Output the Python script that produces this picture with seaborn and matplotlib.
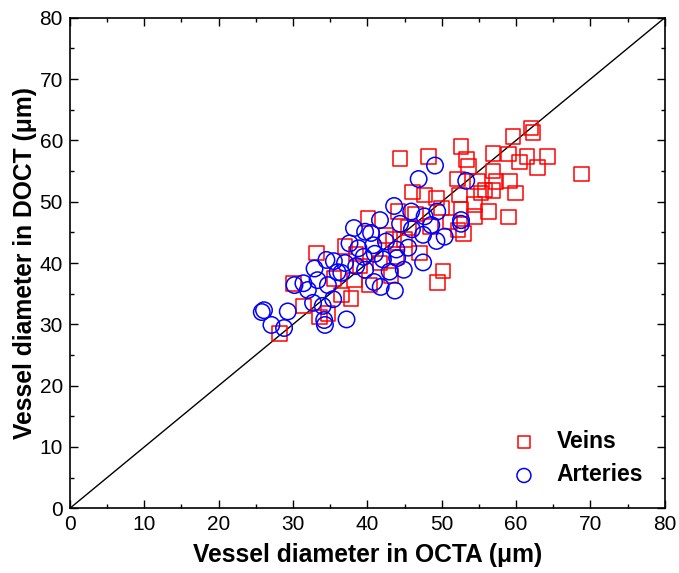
import numpy as np
import pandas as pd
import seaborn as sns
import matplotlib.pyplot as plt
from matplotlib.ticker import MultipleLocator

# veins (red squares): OCTA diameter, DOCT diameter [um]
veins_x = [44.4, 48.2, 52.6, 53.3, 53.6, 52.1, 54.8, 46.1, 47.7, 49.3, 52.4, 55.3, 54.4, 52.6,
           54.4, 40.1, 44.1, 51.1, 62.0, 62.3, 59.6, 56.9, 59.0, 61.5, 64.2, 60.5, 62.9, 68.8,
           56.9, 57.3, 59.1, 56.9, 59.9, 56.3, 59.0, 55.8, 52.9, 52.2, 47.0, 50.2, 49.4, 43.5,
           45.0, 41.7, 43.2, 40.3, 33.2, 37.0, 30.1, 37.8, 31.4, 33.6, 34.7, 28.2, 36.5, 38.3,
           46.5, 48.5, 42.5, 39.0, 35.5, 45.5, 50.0, 38.5, 44.0]
veins_y = [57.0, 57.4, 59.0, 56.9, 55.7, 53.7, 53.3, 51.6, 51.1, 50.6, 51.1, 51.4, 49.5, 48.7,
           47.6, 47.3, 48.4, 46.7, 62.0, 61.3, 60.6, 57.9, 57.8, 57.4, 57.4, 56.5, 55.6, 54.5,
           55.0, 53.3, 53.4, 51.8, 51.4, 48.4, 47.5, 51.9, 44.8, 45.4, 41.6, 38.7, 36.8, 43.8,
           43.8, 40.0, 38.0, 36.4, 41.6, 42.7, 36.7, 34.2, 33.0, 31.2, 31.8, 28.5, 34.8, 37.2,
           48.0, 46.0, 44.5, 39.5, 37.5, 45.8, 49.0, 41.5, 41.0]

# arteries (blue circles)
arteries_x = [49.1, 46.9, 53.3, 43.6, 45.9, 47.7, 49.4, 41.7, 52.6, 52.6, 50.4, 49.3, 47.5, 48.6,
              44.4, 40.5, 40.8, 43.9, 42.1, 44.0, 47.5, 44.9, 43.0, 40.9, 41.8, 43.7, 39.7, 38.2,
              37.6, 38.8, 39.7, 34.5, 35.5, 37.0, 32.9, 36.5, 33.3, 34.7, 31.4, 30.2, 32.0, 35.4,
              32.7, 34.0, 26.1, 25.8, 29.3, 34.2, 34.3, 37.2, 27.1, 28.8, 36.0, 38.5, 42.5, 45.5,
              41.0, 46.0, 39.5]
arteries_y = [55.9, 53.7, 53.4, 49.3, 48.4, 47.6, 48.4, 47.0, 47.0, 46.4, 44.3, 43.6, 44.6, 46.2,
              46.4, 44.9, 42.9, 42.2, 40.6, 40.8, 40.1, 38.9, 38.6, 36.9, 36.1, 35.5, 38.9, 45.7,
              43.2, 42.4, 45.1, 40.5, 40.3, 40.0, 39.1, 38.4, 37.2, 36.4, 36.7, 36.4, 35.6, 34.1,
              33.5, 33.0, 32.3, 32.0, 32.1, 30.7, 29.9, 30.8, 29.9, 29.4, 38.5, 39.5, 43.5, 42.5,
              41.5, 45.5, 41.0]

diag = [0, 80]

df_v = pd.DataFrame({'octa': veins_x, 'doct': veins_y})
df_a = pd.DataFrame({'octa': arteries_x, 'doct': arteries_y})

sns.set_style('ticks')
plt.rcParams['font.family'] = ['Liberation Sans', 'DejaVu Sans']
plt.rcParams['text.color'] = 'black'
plt.rcParams['axes.labelcolor'] = 'black'
plt.rcParams['xtick.color'] = 'black'
plt.rcParams['ytick.color'] = 'black'

fig = plt.figure(figsize=(6.79, 5.73), dpi=100)
ax = fig.add_axes([0.103, 0.113, 0.876, 0.856])

sns.lineplot(x=diag, y=diag, color='black', linewidth=1.0, ax=ax)
sns.scatterplot(data=df_v, x='octa', y='doct', marker='s', s=110, facecolors='none',
                edgecolors='red', linewidth=1.1, label='Veins', ax=ax, zorder=3)
sns.scatterplot(data=df_a, x='octa', y='doct', marker='o', s=140, facecolors='none',
                edgecolors='blue', linewidth=1.1, label='Arteries', ax=ax, zorder=4)

ax.set_xlim(0, 80)
ax.set_ylim(0, 80)
ax.xaxis.set_major_locator(MultipleLocator(10))
ax.yaxis.set_major_locator(MultipleLocator(10))
ax.xaxis.set_minor_locator(MultipleLocator(5))
ax.yaxis.set_minor_locator(MultipleLocator(5))
ax.tick_params(which='both', direction='in', top=True, right=True, colors='black')
ax.tick_params(which='major', length=6, width=1, labelsize=15, pad=5)
ax.tick_params(which='minor', length=3, width=1)
for sp in ax.spines.values():
    sp.set_linewidth(1.2)
    sp.set_color('black')

ax.set_xlabel('Vessel diameter in OCTA (\u03bcm)', fontsize=17.7, fontweight='bold', labelpad=6)
ax.set_ylabel('Vessel diameter in DOCT (\u03bcm)', fontsize=17.7, fontweight='bold', labelpad=2)

leg = ax.legend(loc='lower right', frameon=False, prop={'size': 16.5, 'weight': 'bold'},
                handletextpad=0.42, borderaxespad=0.55, labelspacing=0.45, markerscale=0.85)

fig.savefig('out.png', dpi=100)
